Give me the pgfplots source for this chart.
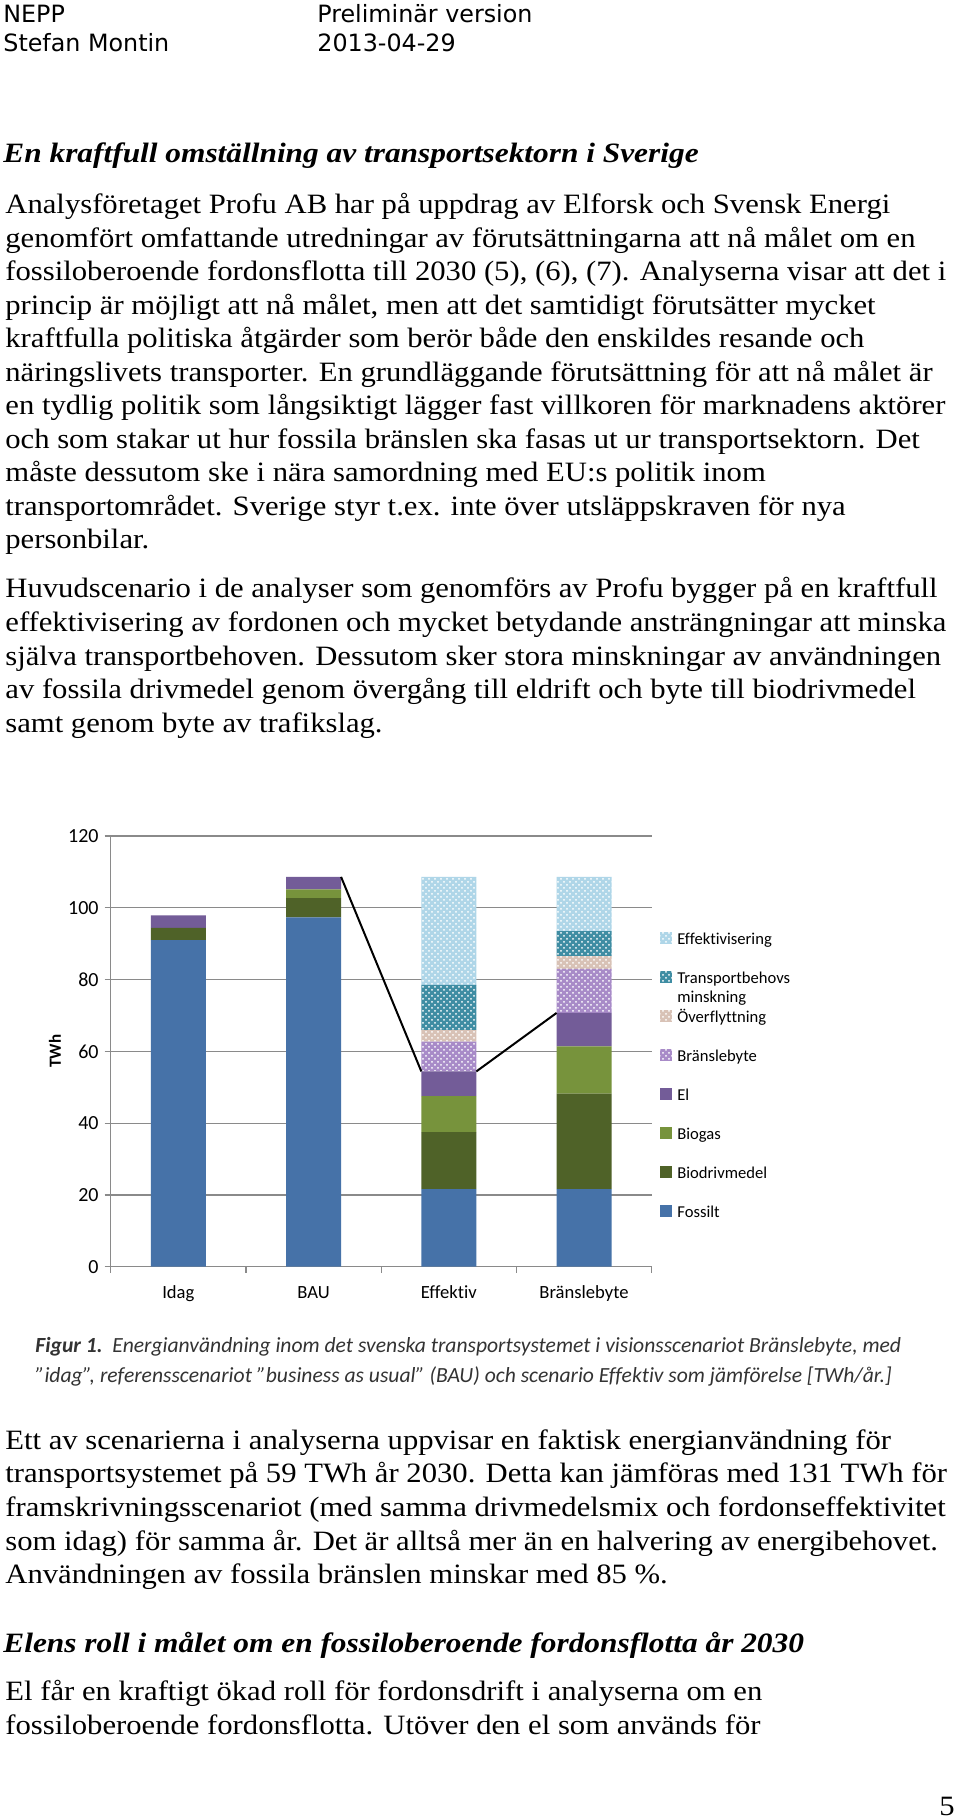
\documentclass[border=0pt]{standalone}
\usepackage{fontspec}
\setmainfont{Liberation Serif}[FakeStretch=1.095, BoldItalicFeatures={FakeStretch=1.12}]
\newfontfamily\calibri{Carlito}[Ligatures=NoCommon]
\newfontfamily\verd{DejaVu Sans}
\usepackage{pgfplots}
\pgfplotsset{compat=1.18}
\usetikzlibrary{patterns}
\definecolor{cFos}{HTML}{4672A8}
\definecolor{cBio}{HTML}{4F6228}
\definecolor{cGas}{HTML}{77933C}
\definecolor{cEl}{HTML}{735C98}
\definecolor{cBra}{HTML}{A88BC8}
\definecolor{cOve}{HTML}{D8C2B6}
\definecolor{cTra}{HTML}{3F8DA3}
\definecolor{cEff}{HTML}{AFD6E8}
\definecolor{cGrid}{HTML}{8A8A8A}
\newcommand\BL[2]{\node[anchor=base west,inner sep=0pt,font=\fontsize{14}{16}\selectfont] at (2.5pt,#1pt) {#2};}
\begin{document}
\begin{tikzpicture}
\fill[white] (0,0) rectangle (480pt,909pt);
\useasboundingbox (0,0) rectangle (480pt,909pt);
% header
\node[anchor=base west,inner sep=0pt,font=\verd\fontsize{11.9}{14}\selectfont] at (1.5pt,897.5pt) {NEPP};
\node[anchor=base west,inner sep=0pt,font=\verd\fontsize{11.9}{14}\selectfont] at (158.5pt,897.5pt) {Preliminär version};
\node[anchor=base west,inner sep=0pt,font=\verd\fontsize{11.9}{14}\selectfont] at (1.5pt,883pt) {Stefan Montin};
\node[anchor=base west,inner sep=0pt,font=\verd\fontsize{11.9}{14}\selectfont] at (158.5pt,883pt) {2013-04-29};
% title
\node[anchor=base west,inner sep=0pt,font=\fontsize{14}{16}\selectfont\bfseries\itshape] at (1.5pt,827.7pt) {En kraftfull omställning av transportsektorn i Sverige};
% paragraph 1
\BL{802.0}{Analysföretaget Profu AB har på uppdrag av Elforsk och Svensk Energi}
\BL{785.28}{genomfört omfattande utredningar av förutsättningarna att nå målet om en}
\BL{768.55}{fossiloberoende fordonsflotta till 2030 (5), (6), (7). Analyserna visar att det i}
\BL{751.83}{princip är möjligt att nå målet, men att det samtidigt förutsätter mycket}
\BL{735.1}{kraftfulla politiska åtgärder som berör både den enskildes resande och}
\BL{718.38}{näringslivets transporter. En grundläggande förutsättning för att nå målet är}
\BL{701.65}{en tydlig politik som långsiktigt lägger fast villkoren för marknadens aktörer}
\BL{684.93}{och som stakar ut hur fossila bränslen ska fasas ut ur transportsektorn. Det}
\BL{668.2}{måste dessutom ske i nära samordning med EU:s politik inom}
\BL{651.48}{transportområdet. Sverige styr t.ex. inte över utsläppskraven för nya}
\BL{634.75}{personbilar.}
% paragraph 2
\BL{610.0}{Huvudscenario i de analyser som genomförs av Profu bygger på en kraftfull}
\BL{593.2}{effektivisering av fordonen och mycket betydande ansträngningar att minska}
\BL{576.4}{själva transportbehoven. Dessutom sker stora minskningar av användningen}
\BL{559.6}{av fossila drivmedel genom övergång till eldrift och byte till biodrivmedel}
\BL{542.8}{samt genom byte av trafikslag.}
% chart
\begin{axis}[
  at={(55.35pt,275.65pt)}, anchor=south west,
  scale only axis, width=270.5pt, height=215.35pt,
  xmin=-0.5, xmax=3.5, ymin=0, ymax=120,
  ybar stacked, bar width=27.5pt,
  axis lines=left, axis line style={-, draw=cGrid, line width=0.6pt},
  ymajorgrids, grid style={draw=cGrid, line width=0.6pt},
  ytick={0,20,...,120},
  xtick={-0.5,0.5,1.5,2.5,3.5}, xticklabels={,,,,},
  extra x ticks={0,1,2,3},
  extra x tick labels={Idag,BAU,Effektiv,Bränslebyte},
  extra x tick style={major tick length=0pt, grid=none},
  tick align=outside, major tick length=3pt,
  tick style={draw=cGrid, line width=0.6pt},
  /pgf/number format/assume math mode=true,
  yticklabel style={font=\calibri\fontsize{10}{12}\selectfont, inner sep=0pt, anchor=east, xshift=-2.85pt},
  xticklabel style={font=\calibri\fontsize{9.3}{11}\selectfont, inner sep=0pt, anchor=base, yshift=-15.85pt},
  ylabel={TWh},
  every axis y label/.style={at={(axis description cs:-0.103,0.5)}, rotate=90, anchor=center, font=\calibri\bfseries\fontsize{8.5}{10}\selectfont},
  reverse legend,
  legend cell align=left,
  legend image code/.code={\path[#1,draw=none] (0pt,-3.3pt) rectangle (6pt,2.7pt);},
  legend style={at={(1.0153,0.81)}, anchor=north west, draw=none, fill=none,
    inner sep=0pt, row sep=0pt, column sep=2.5pt,
    font=\calibri\fontsize{8.3}{9.5}\selectfont,
    nodes={inner sep=0pt, text height=13.3pt, text depth=6.2pt}},
]
\addplot[fill=cFos, draw=none] coordinates {(0,91) (1,97.3) (2,21.6) (3,21.6)};
\addlegendentry{Fossilt}
\addplot[fill=cBio, draw=none] coordinates {(0,3.4) (1,5.4) (2,15.9) (3,26.6)};
\addlegendentry{Biodrivmedel}
\addplot[fill=cGas, draw=none] coordinates {(0,0) (1,2.4) (2,10.0) (3,13.2)};
\addlegendentry{Biogas}
\addplot[fill=cEl, draw=none] coordinates {(0,3.5) (1,3.5) (2,6.9) (3,9.3)};
\addlegendentry{El}
\addplot[fill=cBra, draw=none, postaction={pattern=crosshatch dots, pattern color=white}] coordinates {(0,0) (1,0) (2,8.3) (3,12.3)};
\addlegendentry{Bränslebyte}
\addplot[fill=cOve, draw=none, postaction={pattern=crosshatch dots, pattern color=white}] coordinates {(0,0) (1,0) (2,3.2) (3,3.5)};
\addlegendentry{Överflyttning}
\addplot[fill=cTra, draw=none, postaction={pattern=crosshatch dots, pattern color=white}] coordinates {(0,0) (1,0) (2,12.6) (3,7.0)};
\addlegendentry{\begin{tabular}[t]{@{}l@{}}Transportbehovs\\minskning\end{tabular}}
\addplot[fill=cEff, draw=none, postaction={pattern=crosshatch dots, pattern color=white}] coordinates {(0,0) (1,0) (2,30.1) (3,15.1)};
\addlegendentry{Effektivisering}
\end{axis}
\begin{axis}[
  at={(55.35pt,275.65pt)}, anchor=south west,
  scale only axis, width=270.5pt, height=215.35pt,
  xmin=-0.5, xmax=3.5, ymin=0, ymax=120, hide axis]
\addplot[black, line width=1pt] coordinates {(1.2033,108.6) (1.7967,54.4)};
\addplot[black, line width=1pt] coordinates {(2.2033,54.4) (2.7967,70.7)};
\end{axis}
% caption
\node[anchor=base west,inner sep=0pt,font=\calibri\fontsize{10.8}{13}\selectfont\itshape,text=black!80] at (17.5pt,232.5pt) {\textbf{Figur 1.}\ \ Energianvändning inom det svenska transportsystemet i visionsscenariot Bränslebyte, med};
\node[anchor=base west,inner sep=0pt,font=\calibri\fontsize{10.8}{13}\selectfont\itshape,text=black!80] at (17.5pt,217.5pt) {”idag”, referensscenariot ”business as usual” (BAU) och scenario Effektiv som jämförelse [TWh/år.]};
% paragraph 3
\BL{184.35}{Ett av scenarierna i analyserna uppvisar en faktisk energianvändning för}
\BL{167.55}{transportsystemet på 59 TWh år 2030. Detta kan jämföras med 131 TWh för}
\BL{150.75}{framskrivningsscenariot (med samma drivmedelsmix och fordonseffektivitet}
\BL{133.95}{som idag) för samma år. Det är alltså mer än en halvering av energibehovet.}
\BL{117.15}{Användningen av fossila bränslen minskar med 85 \%.}
\node[anchor=base west,inner sep=0pt,font=\fontsize{14}{16}\selectfont\bfseries\itshape] at (1.5pt,82.5pt) {Elens roll i målet om en fossiloberoende fordonsflotta år 2030};
\BL{58.5}{El får en kraftigt ökad roll för fordonsdrift i analyserna om en}
\BL{41.7}{fossiloberoende fordonsflotta. Utöver den el som används för}
\node[anchor=base east,inner sep=0pt,font=\fontsize{14}{16}\selectfont] at (477.5pt,1.5pt) {5};
\end{tikzpicture}
\end{document}
